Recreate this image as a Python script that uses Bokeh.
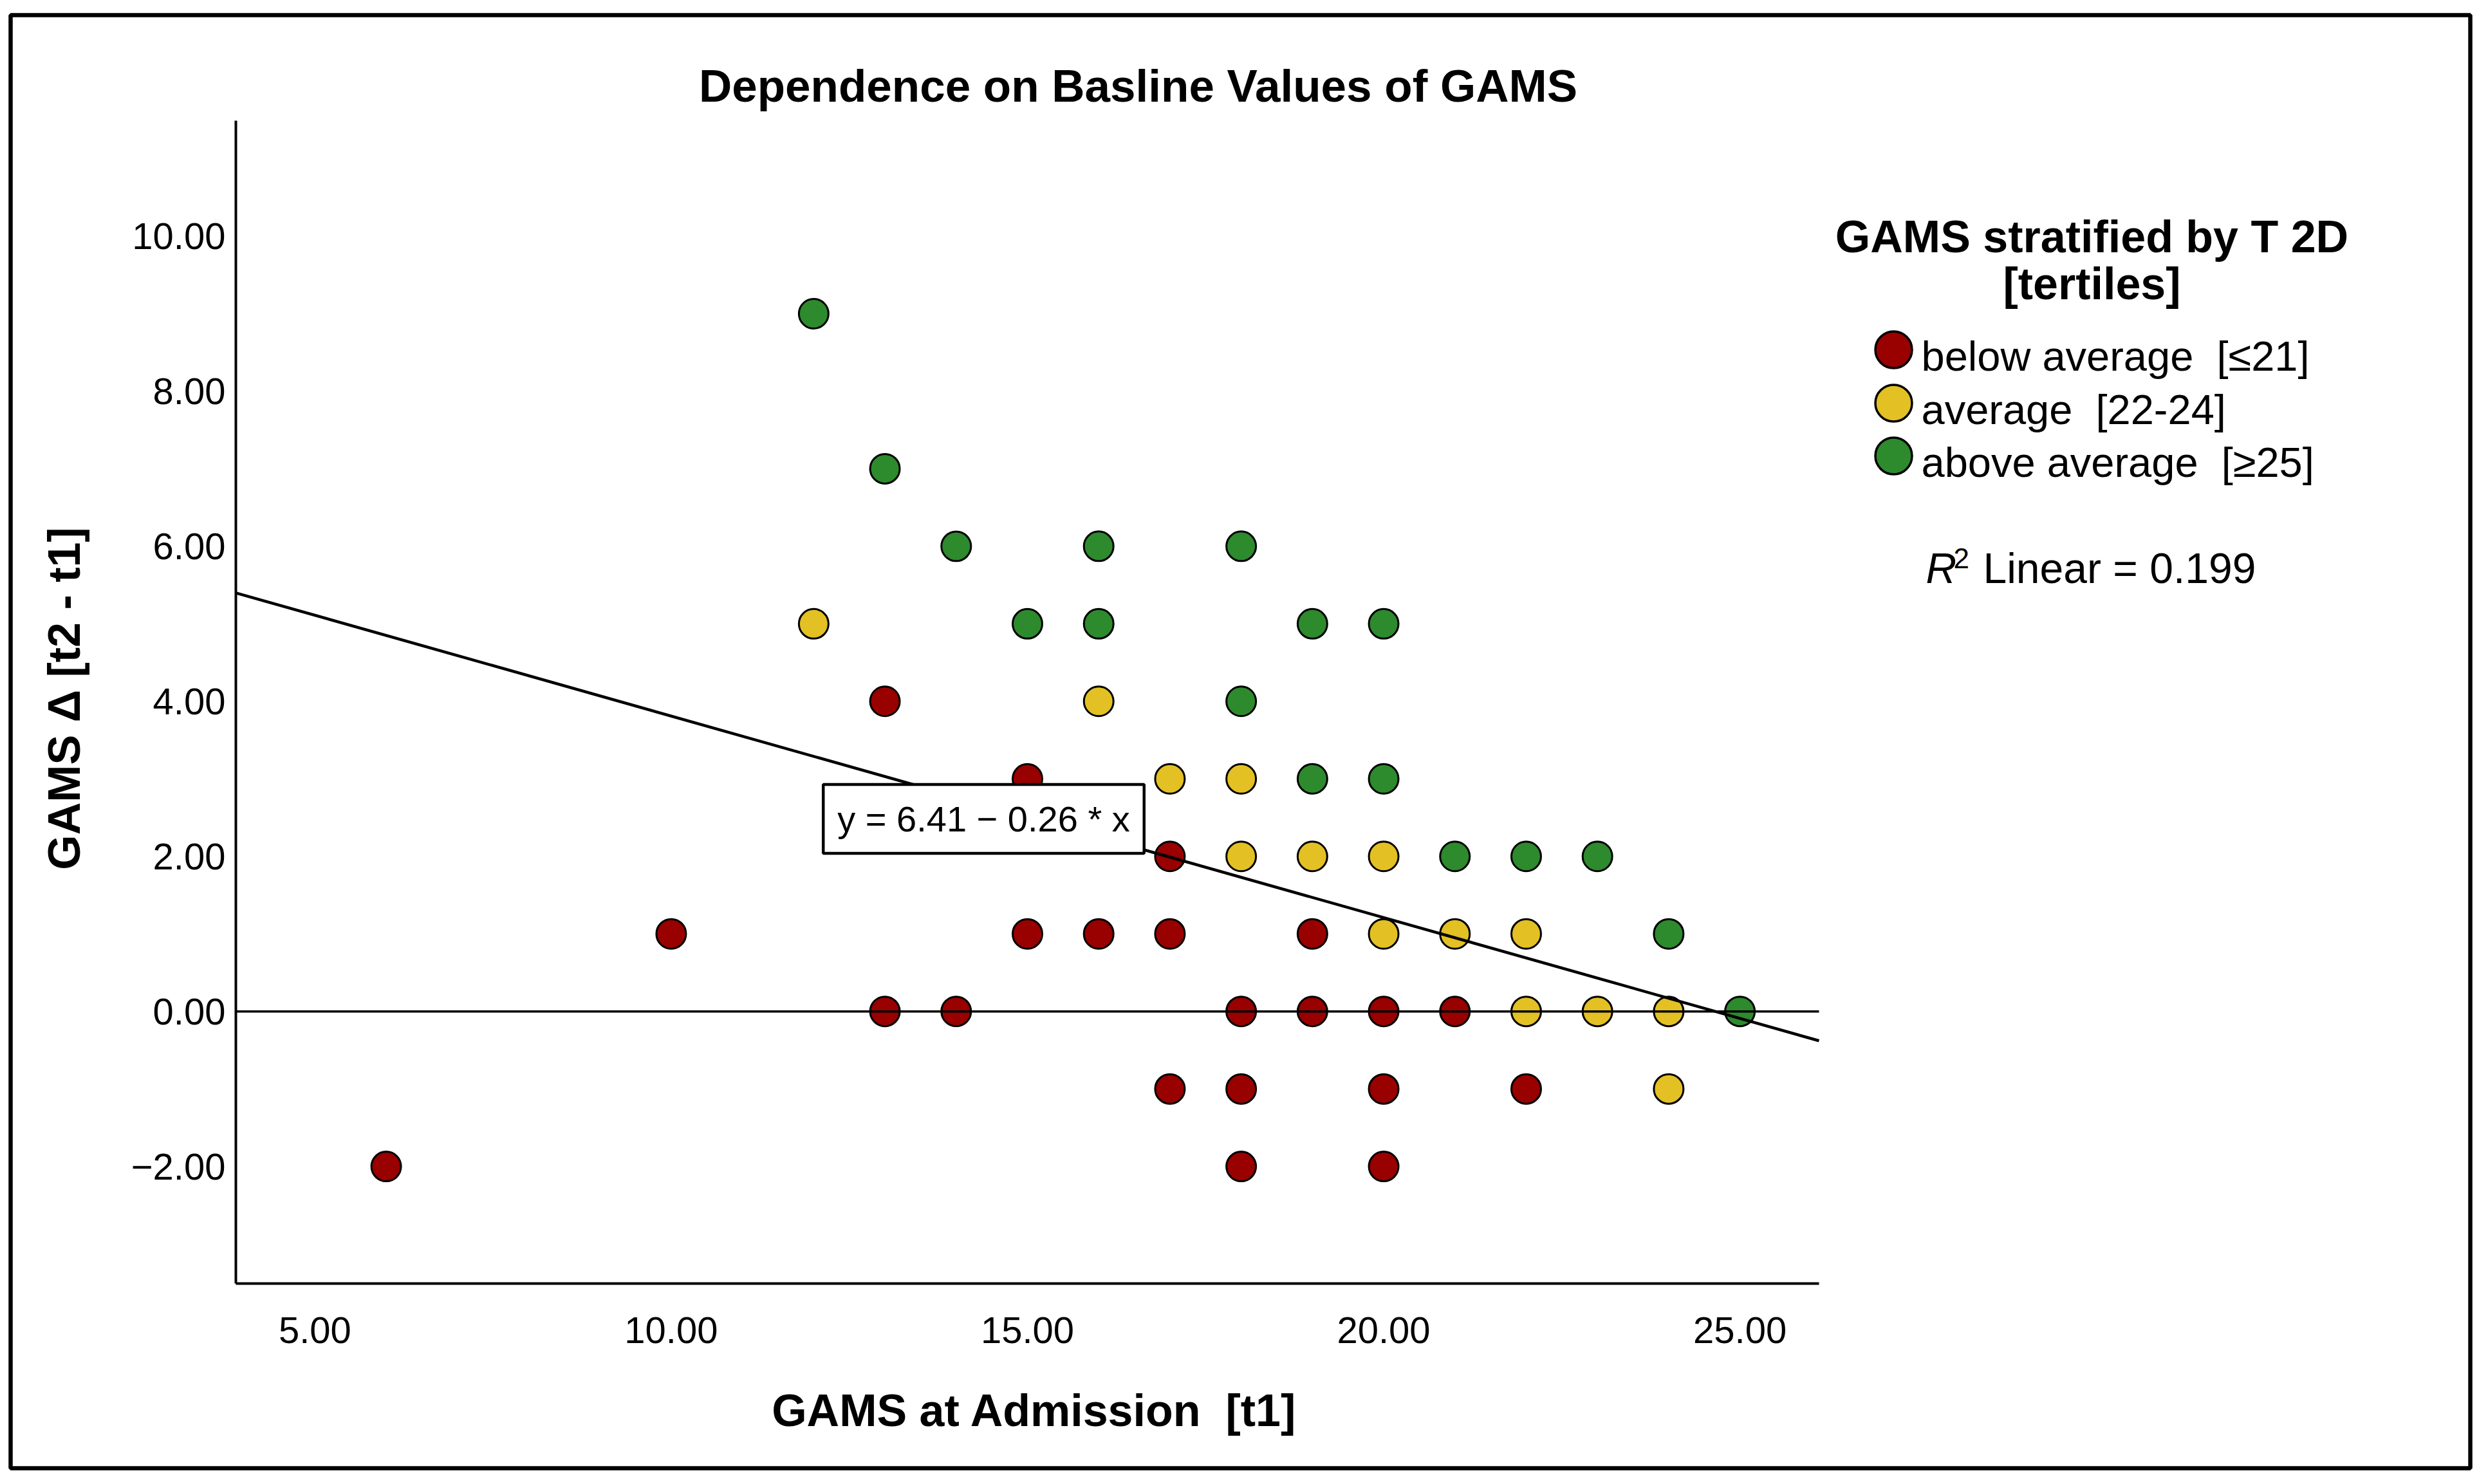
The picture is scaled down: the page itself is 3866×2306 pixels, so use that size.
import math
from bokeh.plotting import figure
from bokeh.models import Range1d, FixedTicker, Label
from bokeh.embed import file_html
from bokeh.resources import INLINE

# ---------------- data ----------------
below_x = [6, 10, 13, 13, 14, 15, 15, 16, 17, 17, 17, 18, 18, 18, 19, 19, 20, 20, 20, 21, 22]
below_y = [-2, 1, 4, 0, 0, 3, 1, 1, 2, 1, -1, 0, -1, -2, 1, 0, 0, -1, -2, 0, -1]
avg_x = [12, 16, 17, 18, 18, 19, 20, 20, 21, 22, 22, 23, 24, 24]
avg_y = [5, 4, 3, 3, 2, 2, 2, 1, 1, 1, 0, 0, 0, -1]
above_x = [12, 13, 14, 16, 18, 15, 16, 19, 20, 18, 19, 20, 21, 22, 23, 24, 25]
above_y = [9, 7, 6, 6, 6, 5, 5, 5, 5, 4, 3, 3, 2, 2, 2, 1, 0]

group_labels = ["below average \u00a0[\u226421]", "average \u00a0[22-24]", "above average \u00a0[\u226525]"]
group_colors = ["#990000", "#E3C024", "#2D8A2D"]

fit_intercept = 6.41
fit_slope = -0.26
r_squared = "0.199"

x_ticks = [5, 10, 15, 20, 25]
y_ticks = [-2, 0, 2, 4, 6, 8, 10]

title_text = "Dependence on Basline Values of GAMS"
x_label = "GAMS at Admission \u00a0[t1]"
y_label = "GAMS \u0394 [t2 - t1]"
legend_title = ["GAMS stratified by T 2D", "[tertiles]"]

# ---------------- layout (canvas px) ----------------
W, H = 3850, 2290
X0, X1 = 3.89, 26.11          # x axis extent (data)
Y0, Y1 = -3.51, 11.49         # y axis extent (data)
AL, AR, AT, AB = 366, 2826, 187, 1994   # axis box in canvas px
OL, OT, OR, OB = 16, 23, 3838, 2281     # outer frame / border
SX = (AR - AL) / (X1 - X0)
SY = (AB - AT) / (Y1 - Y0)

def dx(cx):
    return X0 + (cx - AL) / SX

def dy(cy):
    return Y0 + (AB - cy) / SY

FONT = "Liberation Sans"

p = figure(width=W, height=H, output_backend="svg", toolbar_location=None,
           title=None,
           x_range=Range1d(dx(OL), dx(OR)), y_range=Range1d(dy(OB), dy(OT)),
           min_border_left=OL, min_border_right=W - OR,
           min_border_top=OT, min_border_bottom=H - OB)
p.background_fill_color = "white"
p.border_fill_color = "white"
p.outline_line_color = "black"
p.outline_line_width = 6.5
p.xgrid.visible = False
p.ygrid.visible = False

for ax in (p.xaxis[0], p.yaxis[0]):
    ax.axis_line_width = 4
    ax.axis_line_color = "black"
    ax.major_tick_line_color = None
    ax.minor_tick_line_color = None
    ax.major_tick_out = 0
    ax.major_tick_in = 0
    ax.minor_tick_out = 0
    ax.minor_tick_in = 0
    ax.major_label_text_font = FONT
    ax.major_label_text_font_size = "58px"
    ax.major_label_text_color = "black"

p.xaxis[0].fixed_location = Y0
p.xaxis[0].bounds = (X0, X1)
p.xaxis[0].ticker = FixedTicker(ticks=x_ticks)
p.xaxis[0].major_label_overrides = {t: f"{t:.2f}" for t in x_ticks}
p.xaxis[0].major_label_standoff = 52
p.yaxis[0].fixed_location = X0
p.yaxis[0].bounds = (Y0, Y1)
p.yaxis[0].ticker = FixedTicker(ticks=y_ticks)
p.yaxis[0].major_label_overrides = {t: f"{t:.2f}".replace("-", "\u2212") for t in y_ticks}
p.yaxis[0].major_label_standoff = 16

# data points
for xs, ys, col in ((below_x, below_y, group_colors[0]),
                    (avg_x, avg_y, group_colors[1]),
                    (above_x, above_y, group_colors[2])):
    p.scatter(xs, ys, marker="circle", size=46, fill_color=col,
              line_color="black", line_width=3)

# reference line and fit line
p.line([X0, X1], [0, 0], line_color="black", line_width=3.5)
p.line([X0, X1], [fit_intercept + fit_slope * X0, fit_intercept + fit_slope * X1],
       line_color="black", line_width=4.5)

def text(cx, cy, s, size, style="normal", align="center", angle=0.0):
    p.add_layout(Label(x=dx(cx), y=dy(cy), text=s, text_align=align,
                       text_baseline="middle", angle=angle, text_font=FONT,
                       text_font_style=style, text_font_size=size,
                       text_color="black"))

# equation label
p.add_layout(Label(x=dx(1528), y=dy(1272), text="y = 6.41 \u2212 0.26 * x",
                   text_align="center", text_baseline="middle",
                   text_font=FONT, text_font_size="56px", text_color="black",
                   background_fill_color="white", border_line_color="black",
                   border_line_width=4.5, padding=22))

# title and axis labels
text(1768, 133, title_text, "71px", "bold")
text(1607, 2191, x_label, "70px", "bold")
text(99, 1085, y_label, "70px", "bold", angle=math.pi / 2)

# legend
text(3250, 367, legend_title[0], "70px", "bold")
text(3250, 440, legend_title[1], "70px", "bold")

LEG_KEY_X = 2942
LEG_ROWS = [543, 626, 708]
LEG_TEXT_X = 2985
p.scatter([dx(LEG_KEY_X)] * 3, [dy(r) for r in LEG_ROWS], marker="circle", size=57,
          fill_color=group_colors, line_color="black", line_width=3.5)
for s, r in zip(group_labels, LEG_ROWS):
    text(LEG_TEXT_X, r + 10, s, "65px", align="left")

# R^2 text
text(2992, 882, "R", "66px", "italic", align="left")
text(3035, 867, "2", "44px", align="left")
text(3081, 882, "Linear = " + r_squared, "66px", align="left")

open("out.html", "w").write(file_html(p, INLINE))
